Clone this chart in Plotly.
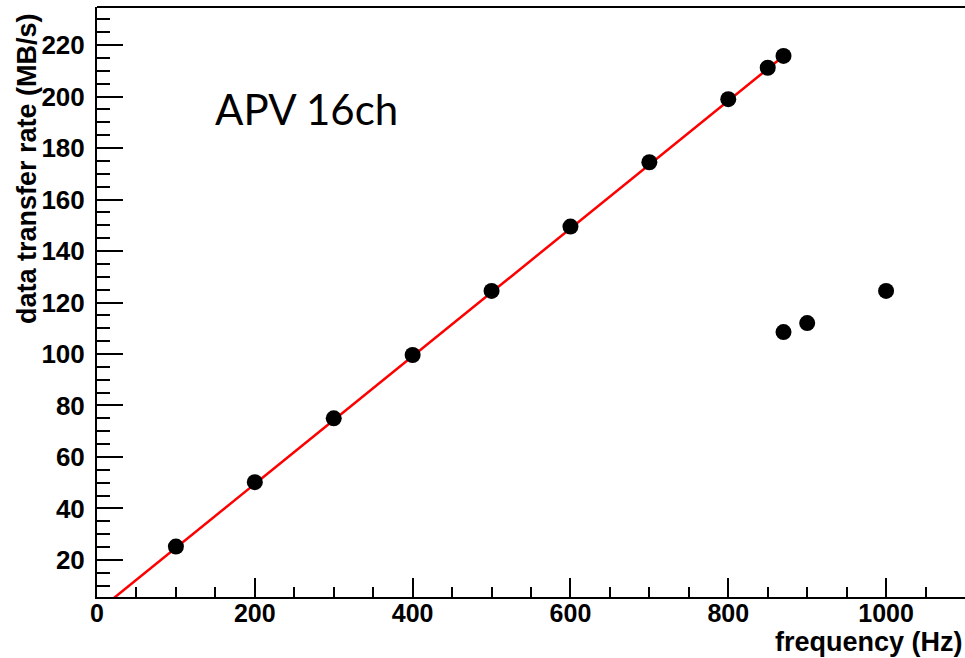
import plotly.graph_objects as go

# data
freq_hz = [100, 200, 300, 400, 500, 600, 700, 800, 850, 870, 870, 900, 1000]
rate_mbs = [25.2, 50.2, 75.0, 99.6, 124.5, 149.5, 174.5, 199.0, 211.2, 215.8, 108.5, 112.0, 124.5]

fit_x = [0, 865]
fit_y = [-0.1, 214.5]

x_ticks = [0, 200, 400, 600, 800, 1000]
y_ticks = [20, 40, 60, 80, 100, 120, 140, 160, 180, 200, 220]

FONT = "Liberation Sans"

fig = go.Figure()
fig.add_trace(go.Scatter(
    x=fit_x, y=fit_y, mode="lines",
    line=dict(color="#ff0000", width=2.5),
    hoverinfo="skip", showlegend=False,
))
fig.add_trace(go.Scatter(
    x=freq_hz, y=rate_mbs, mode="markers",
    marker=dict(color="black", size=16, line=dict(width=0)),
    showlegend=False,
))

fig.update_layout(
    width=965, height=658,
    margin=dict(l=97, r=0, t=7, b=61),
    paper_bgcolor="white", plot_bgcolor="white",
    font=dict(family=FONT, color="black"),
    xaxis=dict(
        range=[0, 1100], tickmode="array", tickvals=x_ticks,
        ticks="inside", ticklen=19, tickwidth=1.5, tickcolor="black",
        minor=dict(dtick=50, tick0=0, ticks="inside", ticklen=10, tickwidth=1.5, tickcolor="black"),
        showline=True, linecolor="black", linewidth=2,
        showgrid=False, zeroline=False,
        tickfont=dict(family=FONT, size=25, weight="bold", color="black"),
        ticklabelstandoff=-7,
    ),
    yaxis=dict(
        range=[5.6, 234.8], tickmode="array", tickvals=y_ticks,
        ticks="inside", ticklen=26, tickwidth=1.5, tickcolor="black",
        minor=dict(dtick=5, tick0=0, ticks="inside", ticklen=13, tickwidth=1.5, tickcolor="black"),
        showline=True, linecolor="black", linewidth=2,
        showgrid=False, zeroline=False,
        tickfont=dict(family=FONT, size=26, weight="bold", color="black"),
        ticklabelstandoff=5,
    ),
    shapes=[dict(type="line", xref="paper", yref="paper", x0=0, x1=1, y0=1, y1=1,
                 line=dict(color="black", width=2))],
    annotations=[
        dict(text="data transfer rate (MB/s)", textangle=-90, showarrow=False,
             xref="paper", yref="paper", x=(27 - 97) / 868, y=(597 - 169) / 590,
             xanchor="center", yanchor="middle",
             font=dict(family=FONT, size=27, weight="bold", color="black")),
        dict(text="frequency (Hz)", showarrow=False,
             xref="paper", yref="paper", x=1, y=(597 - 642) / 590,
             xanchor="right", yanchor="middle",
             font=dict(family=FONT, size=27, weight="bold", color="black")),
        dict(text="APV 16ch", showarrow=False,
             xref="paper", yref="paper", x=(306 - 97) / 868, y=(597 - 109) / 590,
             xanchor="center", yanchor="middle",
             font=dict(family="Lato", size=42, color="black")),
    ],
)

fig.write_html("out.html")
